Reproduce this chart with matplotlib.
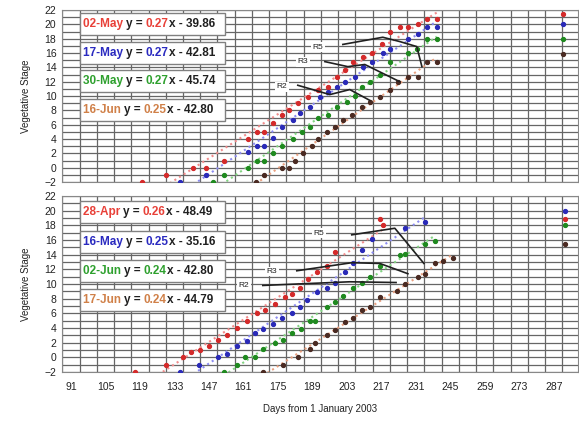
import matplotlib
matplotlib.use('Agg')
import matplotlib.pyplot as plt
import numpy as np
from matplotlib.patches import Rectangle

plt.rcParams['font.family'] = ['Liberation Sans', 'DejaVu Sans']

# ---------------- data: top panel ----------------
top_red_day = [119.8,129.6,140.5,145.8,153.1,162.8,166.5,169.3,173.0,176.6,179.5,183.1,187.2,191.2,195.3,
               199.0,202.2,205.4,209.5,213.2,217.2,220.5,224.5,227.8,231.8,235.5,239.5]
top_red_stage = [-2,-1,0,0,1,4,5,5,6.3,7.4,8,9,9.8,10.9,11.3,12.6,13.6,14.7,15.5,16,17.2,19,19.6,19.6,20,20.7,20.7]
top_blue_day = [135.2,145.8,162.8,166.5,169.3,173.0,176.6,181.1,183.9,188.0,192.1,195.3,199.0,202.2,206.3,
                209.5,213.2,217.6,220.5,227.8,231.8,235.5,239.5]
top_blue_stage = [-2,-1,2.2,3,3,4.2,5.7,6.7,7.7,8.4,9.8,10.5,11.2,12,12.7,14,14.7,16,16.5,17.9,18.6,19.6,19.6]
top_green_day = [148.6,153.1,162.8,166.5,169.3,173.0,176.6,181.1,184.7,188.0,191.2,195.3,199.0,203.0,206.3,
                 209.1,212.3,216.4,220.5,227.8,231.4,235.5,239.5]
top_green_stage = [-2,-1,0,1,1,2,3,4,5,5.7,7,7.4,8.4,9.2,10,11.3,11.9,13,14.8,16,16.5,17.9,17.9]
top_brown_day = [166.0,169.3,176.6,179.5,181.9,185.2,188.8,191.2,194.9,198.1,201.4,205.0,209.1,212.3,216.4,
                 220.5,223.7,227.8,231.8,235.5,239.5]
top_brown_stage = [-2,-1,0,0,1,2,3,4,5,5.7,6.7,7.4,8.5,9.2,9.9,10.9,11.9,12.6,12.6,14.8,14.8]
top_final_day = 290.7
top_final_stage = [21.5, 20, 17.9, 15.8]   # red, blue, green, brown

top_r5_day = [201.4,217.6,224.5,231.4,233.5]; top_r5_stage = [17.2,18.2,17.6,16.9,14.1]
top_r3_day = [194.1,203.4,210.3,224.5];       top_r3_stage = [14.8,14.1,14.4,12.0]
top_r2_day = [183.1,196.1,204.2,212.3];       top_r2_stage = [11.5,10.2,10.9,9.4]

top_dates = ['02-May', '17-May', '30-May', '16-Jun']
top_slopes = ['0.27', '0.27', '0.27', '0.25']
top_rest = ['x - 39.86', 'x - 42.81', 'x - 45.74', 'x - 42.80']

# ---------------- data: bottom panel ----------------
bot_red_day = [117.0,129.6,136.5,139.7,143.4,147.0,150.7,154.3,158.4,162.4,166.5,169.7,173.8,177.9,180.7,
               183.9,187.2,190.8,194.9,198.1,216.4,217.6]
bot_red_stage = [-2,-1,0,0.7,1,1.5,2.3,3,4,4.9,6,6.4,7.3,8.2,8.7,9.5,10.7,11.6,12.5,14.3,18.9,18]
bot_blue_day = [135.2,143.0,150.7,154.3,158.4,162.4,165.7,168.9,173.0,176.6,180.7,183.9,186.8,190.8,194.9,
                198.1,202.2,205.4,209.1,213.2,226.6,234.7]
bot_blue_stage = [-2,-1,0,0.5,1.6,2.2,3.3,3.9,4.6,5.3,6,6.9,7.8,8.9,9.4,10.2,11.6,12.8,14.6,16.2,17.7,18.5]
bot_green_day = [153.1,158.4,161.6,165.7,168.9,173.8,177.0,180.7,184.3,188.0,190.0,194.9,198.1,201.4,205.4,
                 209.1,212.3,216.4,224.5,226.6,234.7,238.7]
bot_green_stage = [-2,-1,0,0,1.1,2,2.4,3.3,3.9,5,5,6.8,7.6,8.4,9.4,10.2,10.9,12.4,14,14.1,15.5,15.9]
bot_brown_day = [168.9,177.0,183.1,188.0,190.0,194.9,198.1,202.2,205.4,209.1,212.3,216.4,223.3,226.6,231.8,
                 234.7,238.7,242.0,246.0]
bot_brown_stage = [-2,-1,0,1.2,1.9,3,3.7,4.8,5.4,6.4,6.8,8.2,9.1,10,10.9,11.4,12.8,13.2,13.5]
bot_final_day = 291.5
bot_final_stage = [18.9, 20, 18, 15.5]   # red, blue, green, brown

bot_r5_day = [205.0,222.5,234.3];             bot_r5_stage = [16.7,17.6,12.8]
bot_r3_day = [182.7,205.0,216.4,227.8];       bot_r3_stage = [11.8,12.9,12.8,11.4]
bot_r2_day = [168.9,204.2,223.0];             bot_r2_stage = [9.8,10.3,10.2]

bot_dates = ['28-Apr', '16-May', '02-Jun', '17-Jun']
bot_slopes = ['0.26', '0.25', '0.24', '0.24']
bot_rest = ['x - 48.49', 'x - 35.16', 'x - 42.80', 'x - 44.79']

x_ticks = list(range(91, 288, 14))
y_ticks = list(range(-2, 23, 2))

# ---------------- styling ----------------
marker_cols = ['#d42a2a', '#2a2ab8', '#1f8a1f', '#4a2a22']
trend_cols = ['#f08c8c', '#8c8cf0', '#84d484', '#e8a080']
text_cols = ['#e84038', '#2a2ac0', '#2ea02e', '#d08048']

fig = plt.figure(figsize=(5.79, 4.23), dpi=100)
ax_top = fig.add_axes([0.107, 0.5697, 0.891, 0.4066])
ax_bot = fig.add_axes([0.107, 0.1206, 0.891, 0.4161])


def style_axes(ax, show_x):
    ax.set_xlim(87.35, 296.8)
    ax.set_ylim(-2, 22)
    ax.set_xticks(x_ticks)
    ax.set_xticks(np.arange(87.5, 297, 7), minor=True)
    ax.set_yticks(y_ticks)
    ax.set_yticks(np.arange(-1, 22, 2), minor=True)
    ax.grid(which='minor', axis='x', color='#666666', lw=0.9)
    ax.grid(which='both', axis='y', color='#666666', lw=0.9)
    ax.set_axisbelow(True)
    ax.tick_params(which='both', length=0)
    ax.tick_params(axis='y', labelsize=7.5, colors='#222222', pad=4)
    ax.tick_params(axis='x', labelsize=7.5, colors='#222222', pad=7)
    if not show_x:
        ax.set_xticklabels([])
    for s in ax.spines.values():
        s.set_color('#888888')
    ax.set_ylabel('Vegetative Stage', fontsize=7, color='#222222', labelpad=10)


def draw_series(ax, days, stages, i):
    d = np.array(days); s = np.array(stages)
    k, b = np.polyfit(d, s, 1)
    xx = np.array([d.min(), d.max()])
    ax.plot(xx, k * xx + b, ls=':', color=trend_cols[i], lw=1.5, zorder=2)
    ax.plot(d, s, 'o', ms=2.8, color=marker_cols[i], mec=marker_cols[i], zorder=4)


def draw_legend(ax, dates, slopes, rests, centers):
    h = 0.128
    for i in range(4):
        yc = centers[i]
        ax.add_patch(Rectangle((0.035, yc - h / 2), 0.281, h, transform=ax.transAxes,
                               facecolor='white', edgecolor='#808080', lw=1, zorder=6))
        t = ax.text(0.040, yc, dates[i] + ' ', transform=ax.transAxes, fontsize=8.5,
                    fontweight='bold', color=text_cols[i], va='center', zorder=7)
        t = ax.annotate('y = ', xy=(1, 0), xycoords=t, va='bottom', fontsize=8.5,
                        fontweight='bold', color='#202020', zorder=7)
        t = ax.annotate(slopes[i], xy=(1, 0), xycoords=t, va='bottom', fontsize=8.5,
                        fontweight='bold', color=text_cols[i], zorder=7)
        ax.annotate(rests[i], xy=(1, 0), xycoords=t, va='bottom', fontsize=8.5,
                    fontweight='bold', color='#202020', zorder=7)


def draw_r(ax, lines, labels):
    for (dx, sy) in lines:
        ax.plot(dx, sy, color='#202020', lw=1.2, zorder=5)
    for (txt, x, y) in labels:
        ax.text(x, y, txt, fontsize=6, color='#202020', ha='center', va='center', zorder=6,
                bbox=dict(facecolor='white', edgecolor='none', pad=1))


style_axes(ax_top, False)
style_axes(ax_bot, True)

for i, (d, s) in enumerate([(top_red_day, top_red_stage), (top_blue_day, top_blue_stage),
                            (top_green_day, top_green_stage), (top_brown_day, top_brown_stage)]):
    draw_series(ax_top, d, s, i)
    ax_top.plot([top_final_day], [top_final_stage[i]], 'o', ms=2.8, color=marker_cols[i], zorder=4)

for i, (d, s) in enumerate([(bot_red_day, bot_red_stage), (bot_blue_day, bot_blue_stage),
                            (bot_green_day, bot_green_stage), (bot_brown_day, bot_brown_stage)]):
    draw_series(ax_bot, d, s, i)
    ax_bot.plot([bot_final_day], [bot_final_stage[i]], 'o', ms=2.8, color=marker_cols[i], zorder=4)

draw_r(ax_top, [(top_r5_day, top_r5_stage), (top_r3_day, top_r3_stage), (top_r2_day, top_r2_stage)],
       [('R5', 191.2, 16.8), ('R3', 185.2, 14.8), ('R2', 176.6, 11.3)])
draw_r(ax_bot, [(bot_r5_day, bot_r5_stage), (bot_r3_day, bot_r3_stage), (bot_r2_day, bot_r2_stage)],
       [('R5', 191.6, 16.9), ('R3', 172.6, 11.7), ('R2', 161.2, 9.8)])

draw_legend(ax_top, top_dates, top_slopes, top_rest, [0.919, 0.75, 0.587, 0.419])
draw_legend(ax_bot, bot_dates, bot_slopes, bot_rest, [0.909, 0.739, 0.574, 0.409])

fig.text(0.553, 0.025, 'Days from 1 January 2003', fontsize=7, color='#222222', ha='center')

fig.savefig('out.png', dpi=100)
